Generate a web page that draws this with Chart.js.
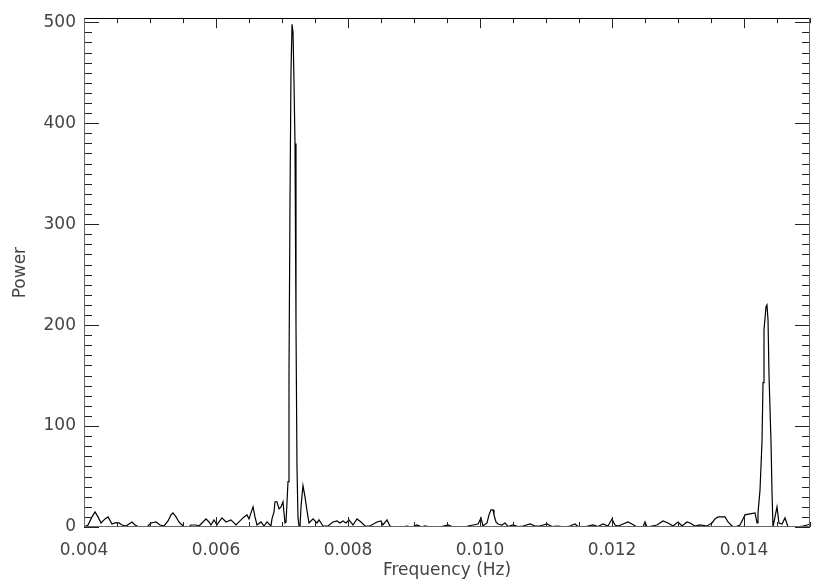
<!DOCTYPE html>
<html>
<head>
<meta charset="utf-8">
<script src="https://cdn.jsdelivr.net/npm/chart.js@4"></script>
<style>
  html, body { margin: 0; padding: 0; background: #fff; }
  #wrap { width: 830px; height: 586px; }
</style>
</head>
<body>
<div id="wrap"><canvas id="myChart" width="830" height="586"></canvas></div>
<script>
// frequency (Hz) and power
let freq = [
  0.004000, 0.004061, 0.004121, 0.004167, 0.004212, 0.004258, 0.004318, 0.004364, 0.004424, 0.004470,
  0.004530, 0.004576, 0.004636, 0.004682, 0.004727, 0.004773, 0.004833, 0.004955, 0.005015, 0.005091,
  0.005152, 0.005212, 0.005273, 0.005318, 0.005348, 0.005394, 0.005439, 0.005470, 0.005515, 0.005591,
  0.005621, 0.005697, 0.005742, 0.005803, 0.005848, 0.005894, 0.005924, 0.005970, 0.006015, 0.006045,
  0.006091, 0.006152, 0.006227, 0.006303, 0.006364, 0.006424, 0.006470, 0.006500, 0.006530, 0.006561,
  0.006591, 0.006621, 0.006682, 0.006727, 0.006773, 0.006833, 0.006848, 0.006879, 0.006894, 0.006924,
  0.006955, 0.006985, 0.007015, 0.007045, 0.007061, 0.007091, 0.007106, 0.007121, 0.007136, 0.007152,
  0.007167, 0.007182, 0.007197, 0.007212, 0.007227, 0.007242, 0.007258, 0.007273, 0.007288, 0.007318,
  0.007348, 0.007379, 0.007409, 0.007470, 0.007530, 0.007561, 0.007621, 0.007697, 0.007773, 0.007833,
  0.007879, 0.007924, 0.007970, 0.008015, 0.008076, 0.008136, 0.008197, 0.008258, 0.008333, 0.008439,
  0.008500, 0.008530, 0.008591, 0.008636, 0.008682, 0.008833, 0.008894, 0.008970, 0.009045, 0.009121,
  0.009167, 0.009242, 0.009318, 0.009394, 0.009515, 0.009576, 0.009652, 0.009773, 0.009818, 0.009894,
  0.009970, 0.010015, 0.010045, 0.010106, 0.010136, 0.010167, 0.010197, 0.010212, 0.010242, 0.010273,
  0.010333, 0.010379, 0.010424, 0.010500, 0.010576, 0.010652, 0.010758, 0.010833, 0.010909, 0.011015,
  0.011091, 0.011182, 0.011288, 0.011364, 0.011439, 0.011485, 0.011545, 0.011636, 0.011712, 0.011788,
  0.011864, 0.011939, 0.012000, 0.012045, 0.012091, 0.012167, 0.012242, 0.012303, 0.012379, 0.012470,
  0.012500, 0.012530, 0.012606, 0.012682, 0.012773, 0.012848, 0.012924, 0.013000, 0.013061, 0.013136,
  0.013182, 0.013258, 0.013333, 0.013439, 0.013515, 0.013561, 0.013606, 0.013712, 0.013758, 0.013818,
  0.013864, 0.013939, 0.013985, 0.014015, 0.014091, 0.014167, 0.014197, 0.014212, 0.014242, 0.014273,
  0.014288, 0.014303, 0.014333, 0.014348, 0.014364, 0.014379, 0.014409, 0.014424, 0.014439, 0.014470,
  0.014500, 0.014530, 0.014576, 0.014621, 0.014667, 0.014803, 0.014894, 0.014955, 0.015000
];
let power = [
  0, 2, 10, 15, 10, 4, 8, 10, 3, 4,
  4, 2, 1, 3, 5, 2, 0, 0, 4, 5,
  2, 1, 6, 12, 14, 10, 5, 3, 0, 0,
  2, 2, 1, 5, 8, 5, 2, 7, 2, 5,
  9, 5, 7, 2, 6, 10, 12, 8, 14, 20,
  10, 2, 5, 1, 5, 1, 8, 15, 25, 25,
  18, 20, 25, 4, 5, 45, 150, 320, 450, 498,
  490, 440, 380, 200, 60, 10, 0, 0, 20, 41,
  30, 16, 4, 8, 4, 7, 1, 1, 5, 6,
  4, 6, 4, 7, 2, 8, 5, 1, 1, 5,
  6, 2, 7, 1, 0, 0, 1, 0, 2, 0,
  1, 0, 0.5, 0, 2, 0.5, 0, 0, 1, 2,
  3, 9, 1, 4, 12, 17, 17, 12, 5, 3,
  2, 4, 0.5, 2, 0.5, 1, 3, 1, 1, 3,
  0.5, 1, 0, 1, 3, 0.5, 0, 1, 2, 0.5,
  3, 1, 8, 2, 1, 3, 5, 3, 0, 0,
  5, 0, 1, 2, 6, 4, 1, 5, 1, 5,
  4, 1, 2, 1, 4, 8, 10, 10, 5, 1,
  0, 2, 8, 12, 13, 14, 4, 14, 36, 85,
  143, 195, 218, 220, 205, 150, 85, 36, 0, 10,
  20, 4, 3, 9, 0, 0, 1, 2, 3
];
let xTicks = [0.004, 0.006, 0.008, 0.010, 0.012, 0.014];
let yTicks = [0, 100, 200, 300, 400, 500];

let points = freq.map(function (f, i) { return {x: f, y: power[i]}; });

// IDL style frame: box with inward major/minor ticks on all four sides
const frame = {
  id: 'frame',
  afterDraw: function (chart) {
    const ctx = chart.ctx;
    const a = chart.chartArea;
    const xs = chart.scales.x, ys = chart.scales.y;
    ctx.save();
    ctx.lineWidth = 1;
    // ticks
    ctx.strokeStyle = '#222';
    ctx.beginPath();
    for (let v = 0; v <= 500; v += 10) {
      const py = Math.round(ys.getPixelForValue(v)) + 0.5;
      const len = (v % 100 === 0) ? 15 : 8;
      ctx.moveTo(a.left, py); ctx.lineTo(a.left + len, py);
      ctx.moveTo(a.right, py); ctx.lineTo(a.right - len, py);
    }
    for (let k = 0; k <= 22; k++) {
      const v = 0.004 + k * 0.0005;
      const px = Math.round(xs.getPixelForValue(v)) + 0.5;
      const len = (k % 4 === 0) ? 10 : 5;
      ctx.moveTo(px, a.bottom); ctx.lineTo(px, a.bottom - len);
      ctx.moveTo(px, a.top); ctx.lineTo(px, a.top + len);
    }
    ctx.stroke();
    // box
    const l = Math.round(a.left) + 0.5, r = Math.round(a.right) - 0.5;
    const t = Math.round(a.top) + 0.5, b = Math.round(a.bottom) - 0.5;
    ctx.strokeStyle = '#666';
    ctx.beginPath();
    ctx.moveTo(l, t); ctx.lineTo(l, b); ctx.lineTo(r, b); ctx.lineTo(r, t);
    ctx.stroke();
    ctx.strokeStyle = '#000';
    ctx.beginPath();
    ctx.moveTo(l, t); ctx.lineTo(r, t);
    ctx.stroke();
    ctx.restore();
  }
};

new Chart("myChart", {
  type: "line",
  data: {
    datasets: [{
      data: points,
      borderColor: "#000",
      borderWidth: 1.2,
      pointRadius: 0,
      tension: 0,
      fill: false
    }]
  },
  options: {
    responsive: false,
    animation: false,
    layout: {padding: {left: 0, right: 20, top: 10, bottom: 0}},
    plugins: {
      legend: {display: false},
      tooltip: {enabled: false}
    },
    scales: {
      x: {
        type: "linear",
        min: 0.004,
        max: 0.015,
        grid: {display: false, drawTicks: false},
        border: {display: false},
        afterFit: function (s) { s.height = 59; },
        afterBuildTicks: function (s) { s.ticks = xTicks.map(function (v) { return {value: v}; }); },
        ticks: {
          padding: 13,
          maxRotation: 0,
          autoSkip: false,
          color: "#444",
          font: {family: "DejaVu Sans", size: 17},
          callback: function (v) { return v.toFixed(3); }
        },
        title: {
          display: true,
          text: "Frequency (Hz)",
          color: "#444",
          font: {family: "DejaVu Sans", size: 17},
          padding: {top: 0, bottom: 5}
        }
      },
      y: {
        min: 0,
        max: 504,
        grid: {display: false, drawTicks: false},
        border: {display: false},
        afterFit: function (s) { s.width = 84; },
        afterBuildTicks: function (s) { s.ticks = yTicks.map(function (v) { return {value: v}; }); },
        ticks: {
          padding: 8,
          color: "#444",
          font: {family: "DejaVu Sans", size: 17}
        },
        title: {
          display: true,
          text: "Power",
          color: "#444",
          font: {family: "DejaVu Sans", size: 17},
          padding: {top: 10, bottom: 0}
        }
      }
    }
  },
  plugins: [frame]
});
</script>
</body>
</html>
